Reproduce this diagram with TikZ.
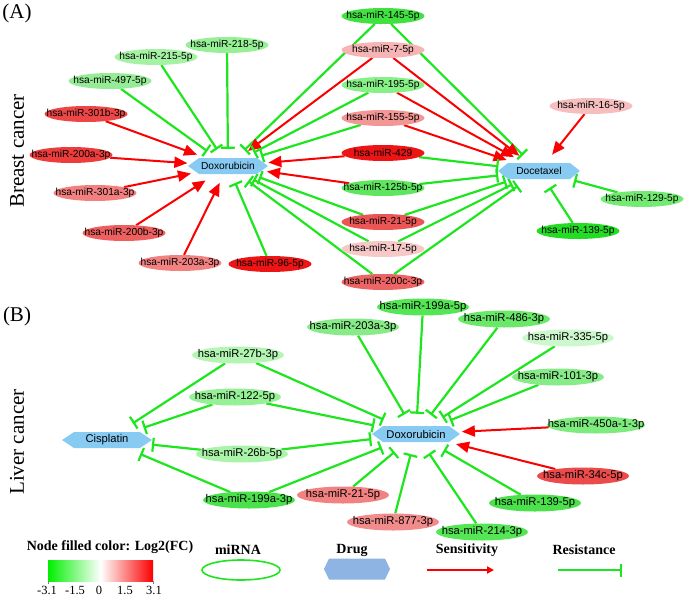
\documentclass[tikz,border=0pt]{standalone}
\usepackage{fontspec}
\setmainfont{Liberation Serif}
\newfontfamily\arialf{Liberation Sans}
\usetikzlibrary{arrows.meta,shapes.geometric,backgrounds}
\definecolor{edgeG}{RGB}{30,230,30}
\definecolor{edgeR}{RGB}{250,0,0}
\definecolor{drugF}{RGB}{135,202,242}
\definecolor{legHex}{RGB}{141,180,226}
\definecolor{cbG}{RGB}{0,240,0}
\definecolor{cbR}{RGB}{250,0,0}
% A
\definecolor{cA218}{RGB}{150,240,150}
\definecolor{cA215}{RGB}{165,242,165}
\definecolor{cA497}{RGB}{150,236,150}
\definecolor{cA301b}{RGB}{236,70,70}
\definecolor{cA200a}{RGB}{236,60,60}
\definecolor{cA301a}{RGB}{242,128,128}
\definecolor{cA200b}{RGB}{238,95,95}
\definecolor{cA203a}{RGB}{242,130,130}
\definecolor{cA96}{RGB}{236,20,20}
\definecolor{cA145}{RGB}{65,225,65}
\definecolor{cA7}{RGB}{246,180,180}
\definecolor{cA195}{RGB}{135,240,135}
\definecolor{cA155}{RGB}{242,150,150}
\definecolor{cA429}{RGB}{236,20,20}
\definecolor{cA125b}{RGB}{95,230,95}
\definecolor{cA21}{RGB}{236,85,85}
\definecolor{cA17}{RGB}{246,200,200}
\definecolor{cA200c}{RGB}{236,100,100}
\definecolor{cA16}{RGB}{246,190,190}
\definecolor{cA129}{RGB}{115,235,115}
\definecolor{cA139}{RGB}{35,220,35}
% B
\definecolor{cB27b}{RGB}{180,245,180}
\definecolor{cB122}{RGB}{150,240,150}
\definecolor{cB26b}{RGB}{170,244,170}
\definecolor{cB199a3}{RGB}{75,225,75}
\definecolor{cB203a}{RGB}{135,236,135}
\definecolor{cB199a5}{RGB}{85,230,85}
\definecolor{cB486}{RGB}{105,232,105}
\definecolor{cB335}{RGB}{205,248,205}
\definecolor{cB101}{RGB}{135,236,135}
\definecolor{cB450}{RGB}{125,235,125}
\definecolor{cB34c}{RGB}{236,75,75}
\definecolor{cB139}{RGB}{75,225,75}
\definecolor{cB214}{RGB}{85,230,85}
\definecolor{cB877}{RGB}{242,140,140}
\definecolor{cB21}{RGB}{242,130,130}
\newcommand\zt[1]{\makebox[0pt]{#1}}
% #1 centre coordinate, #2 width, #3 height, #4 point depth, #5 colour
\newcommand\hexfill[5]{\fill[#5, shift={(#1)}]
  (-#2/2,0) -- (-#2/2+#4,#3/2) -- (#2/2-#4,#3/2) -- (#2/2,0) -- (#2/2-#4,-#3/2) -- (-#2/2+#4,-#3/2) -- cycle;}
\begin{document}
\begin{tikzpicture}[x=1pt,y=-1pt,
  mirA/.style={ellipse, minimum width=83pt, minimum height=16pt, inner sep=0pt, fill=#1, font=\arialf\fontsize{10.2}{12}\selectfont},
  mirB/.style={ellipse, minimum width=92pt, minimum height=17pt, inner sep=0pt, fill=#1, font=\arialf\fontsize{11.2}{13}\selectfont},
  drugA/.style={ellipse, minimum width=#1, minimum height=34pt, inner sep=0pt, font=\arialf\fontsize{10.2}{12}\selectfont},
  drugB/.style={ellipse, minimum width=#1, minimum height=40pt, inner sep=0pt, font=\arialf\fontsize{11.2}{13}\selectfont},
  sens/.style={draw=edgeR, line width=2pt, -{Triangle[length=13pt,width=11pt]}},
  res/.style={draw=edgeG, line width=2.2pt, -{Bar[width=14pt]}},
  ttl/.style={font=\fontsize{21}{24}\selectfont},
  legt/.style={font=\bfseries\fontsize{14}{16}\selectfont},
  tick/.style={font=\fontsize{12.5}{14}\selectfont}
]
\useasboundingbox (0,0) rectangle (685,597);

% titles
\node[ttl] (tA) at (17,13) {(A)};
\node[ttl] (tB) at (17,316) {(B)};
\node[ttl, rotate=90] (tBC) at (17,151) {Breast cancer};
\node[ttl, rotate=90] (tLC) at (17,442) {Liver cancer};

% ---------- drugs ----------
\coordinate (doxAc) at (228,166);
\coordinate (docc) at (539,171);
\coordinate (cisc) at (107,440);
\coordinate (doxBc) at (416,434);
\hexfill{doxAc}{80}{16}{11}{drugF}
\hexfill{docc}{82}{16}{10}{drugF}
\hexfill{cisc}{90}{16}{12}{drugF}
\hexfill{doxBc}{88}{16}{11}{drugF}
\node[drugA=82pt] (doxA) at (doxAc) {Doxorubicin};
\node[drugA=84pt] (doc) at (docc) {Docetaxel};
\node[drugB=92pt] (cis) at (cisc) {Cisplatin};
\node[drugB=92pt] (doxB) at (doxBc) {Doxorubicin};

% ---------- A ----------
\node[mirA=cA218] (a218) at (227,45) {\zt{hsa-miR-218-5p}};
\node[mirA=cA215] (a215) at (156,57) {\zt{hsa-miR-215-5p}};
\node[mirA=cA497] (a497) at (110,81) {\zt{hsa-miR-497-5p}};
\node[mirA=cA301b] (a301b) at (86,114) {\zt{hsa-miR-301b-3p}};
\node[mirA=cA200a] (a200a) at (71,155) {\zt{hsa-miR-200a-3p}};
\node[mirA=cA301a] (a301a) at (95,193) {\zt{hsa-miR-301a-3p}};
\node[mirA=cA200b] (a200b) at (124,233) {\zt{hsa-miR-200b-3p}};
\node[mirA=cA203a] (a203a) at (180,263) {\zt{hsa-miR-203a-3p}};
\node[mirA=cA96] (a96) at (270,264) {\zt{hsa-miR-96-5p}};
\node[mirA=cA145] (a145) at (383,16) {\zt{hsa-miR-145-5p}};
\node[mirA=cA7] (a7) at (383,50) {\zt{hsa-miR-7-5p}};
\node[mirA=cA195] (a195) at (383,85) {\zt{hsa-miR-195-5p}};
\node[mirA=cA155] (a155) at (383,118) {\zt{hsa-miR-155-5p}};
\node[mirA=cA429] (a429) at (383,153) {\zt{hsa-miR-429}};
\node[mirA=cA125b] (a125b) at (383,188) {\zt{hsa-miR-125b-5p}};
\node[mirA=cA21] (a21) at (383,222) {\zt{hsa-miR-21-5p}};
\node[mirA=cA17] (a17) at (383,249) {\zt{hsa-miR-17-5p}};
\node[mirA=cA200c] (a200c) at (383,282) {\zt{hsa-miR-200c-3p}};
\node[mirA=cA16] (a16) at (591,106) {\zt{hsa-miR-16-5p}};
\node[mirA=cA129] (a129) at (642,199) {\zt{hsa-miR-129-5p}};
\node[mirA=cA139] (a139) at (578,231) {\zt{hsa-miR-139-5p}};

% ---------- B ----------
\node[mirB=cB27b] (b27b) at (238,355) {\zt{hsa-miR-27b-3p}};
\node[mirB=cB122] (b122) at (235,397) {\zt{hsa-miR-122-5p}};
\node[mirB=cB26b] (b26b) at (242,454) {\zt{hsa-miR-26b-5p}};
\node[mirB=cB199a3] (b199a3) at (249,500) {\zt{hsa-miR-199a-3p}};
\node[mirB=cB203a] (b203a) at (353,327) {\zt{hsa-miR-203a-3p}};
\node[mirB=cB199a5] (b199a5) at (423,307) {\zt{hsa-miR-199a-5p}};
\node[mirB=cB486] (b486) at (504,319) {\zt{hsa-miR-486-3p}};
\node[mirB=cB335] (b335) at (568,338) {\zt{hsa-miR-335-5p}};
\node[mirB=cB101] (b101) at (558,377) {\zt{hsa-miR-101-3p}};
\node[mirB=cB450, minimum width=98pt] (b450) at (596,425) {\zt{hsa-miR-450a-1-3p}};
\node[mirB=cB34c] (b34c) at (583,476) {\zt{hsa-miR-34c-5p}};
\node[mirB=cB139] (b139) at (535,503) {\zt{hsa-miR-139-5p}};
\node[mirB=cB214] (b214) at (482,532) {\zt{hsa-miR-214-3p}};
\node[mirB=cB877] (b877) at (393,522) {\zt{hsa-miR-877-3p}};
\node[mirB=cB21] (b21) at (343,495) {\zt{hsa-miR-21-5p}};

\begin{pgfonlayer}{background}
% A -> Doxorubicin
\draw[res] (a218) -- (doxA);
\draw[res] (a215) -- (doxA);
\draw[res] (a497) -- (doxA);
\draw[sens] (a301b) -- (doxA);
\draw[sens] (a200a) -- (doxA);
\draw[sens] (a301a) -- (doxA);
\draw[sens] (a200b) -- (doxA);
\draw[sens] (a203a) -- (doxA);
\draw[res] (a96) -- (doxA);
\draw[res] (a145) -- (doxA);
\draw[sens] (a7) -- (doxA);
\draw[res] (a195) -- (doxA);
\draw[res] (a155) -- (doxA);
\draw[sens] (a429) -- (doxA);
\draw[sens] (a125b) -- (doxA);
\draw[res] (a21) -- (doxA);
\draw[res] (a17) -- (doxA);
\draw[res] (a200c) -- (doxA);
% A -> Docetaxel
\draw[res] (a145) -- (doc);
\draw[sens] (a7) -- (doc);
\draw[sens] (a195) -- (doc);
\draw[sens] (a155) -- (doc);
\draw[res] (a429) -- (doc);
\draw[res] (a125b) -- (doc);
\draw[res] (a21) -- (doc);
\draw[res] (a17) -- (doc);
\draw[res] (a200c) -- (doc);
\draw[sens] (a16) -- (doc);
\draw[res] (a129) -- (doc);
\draw[res] (a139) -- (doc);
% B -> Cisplatin
\draw[res] (b27b) -- (cis);
\draw[res] (b122) -- (cis);
\draw[res] (b26b) -- (cis);
\draw[res] (b199a3) -- (cis);
% B -> Doxorubicin
\draw[res] (b27b) -- (doxB);
\draw[res] (b122) -- (doxB);
\draw[res] (b26b) -- (doxB);
\draw[res] (b199a3) -- (doxB);
\draw[res] (b203a) -- (doxB);
\draw[res] (b199a5) -- (doxB);
\draw[res] (b486) -- (doxB);
\draw[res] (b335) -- (doxB);
\draw[res] (b101) -- (doxB);
\draw[sens] (b450) -- (doxB);
\draw[sens] (b34c) -- (doxB);
\draw[res] (b139) -- (doxB);
\draw[res] (b214) -- (doxB);
\draw[res] (b877) -- (doxB);
\draw[res] (b21) -- (doxB);
\end{pgfonlayer}

% ---------- legend ----------
\node[legt] (lgT) at (110,547) {Node filled color: Log2(FC)};
\shade[left color=cbG, right color=cbR, middle color=white] (48,560) rectangle (153,581);
\draw[gray, line width=0.6pt] (48,581) -- (48,584) (153,581) -- (153,584);
\node[tick] (k1) at (47,590) {-3.1};
\node[tick] (k2) at (75,590) {-1.5};
\node[tick] (k3) at (99,590) {0};
\node[tick] (k4) at (125,590) {1.5};
\node[tick] (k5) at (154,590) {3.1};

\node[legt] (lgM) at (238,550) {miRNA};
\node[ellipse, draw=edgeG, line width=1.6pt, minimum width=78pt, minimum height=20pt, inner sep=0pt] (lgE) at (241,570) {};

\node[legt] (lgD) at (352,550) {Drug};
\coordinate (lgH) at (357,569);
\hexfill{lgH}{66}{21}{5}{legHex}

\node[legt] (lgS) at (467,550) {Sensitivity};
\coordinate (sA) at (427,570);
\coordinate (sB) at (494,570);
\draw[edgeR, line width=1.8pt, -{Triangle[length=7pt,width=7pt]}] (sA) -- (sB);

\node[legt] (lgR) at (584,550) {Resistance};
\coordinate (rA) at (558,570);
\coordinate (rB) at (622,570);
\draw[edgeG, line width=1.8pt, -{Bar[width=13pt]}] (rA) -- (rB);
\end{tikzpicture}
\end{document}
